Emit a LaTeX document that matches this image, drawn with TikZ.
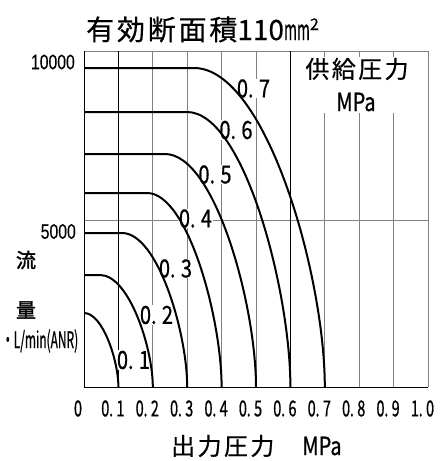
\documentclass[tikz,border=0pt]{standalone}
\usepackage{fontspec}
\usepackage{graphicx}
\newfontfamily\jp[FakeBold=0.5]{Noto Sans CJK JP}
\newfontfamily\jpls[LetterSpace=10,FakeBold=0.5]{Noto Sans CJK JP}
\newfontfamily\jpb[FakeBold=1.8]{Noto Sans CJK JP}
\newfontfamily\tickff[FakeStretch=0.66,FakeBold=0.6]{Noto Sans CJK JP}
\newfontfamily\clabff[FakeStretch=0.8,FakeBold=0.6]{Noto Sans CJK JP}
\newfontfamily\narrowff[FakeStretch=0.52,FakeBold=0.6]{Noto Sans CJK JP}
\newfontfamily\mpaff[FakeStretch=0.8,FakeBold=0.6]{Noto Sans CJK JP}
\newfontfamily\arialn[FakeStretch=0.75,FakeBold=0.3]{Liberation Sans}
\newlength\cellw
\setlength\cellw{8pt}
\newcommand\dg[1]{\makebox[\cellw][c]{#1}}
\newcommand\dt{\makebox[\cellw][l]{.}}
\newcommand\num[2]{\dg{#1}\dt\dg{#2}}
\newcommand\tickfont{\tickff\fontsize{22}{22}\selectfont\setlength\cellw{7.6pt}}
\newcommand\clabfont{\clabff\fontsize{25}{25}\selectfont\setlength\cellw{11pt}}
\begin{document}
\begin{tikzpicture}[x=1pt,y=-1pt,
  gridline/.style={draw=black!50, line width=0.8pt},
  frameline/.style={draw=black, line width=1pt},
  curve/.style={draw=black, line width=2pt},
  clabel/.style={fill=white, inner sep=0.6pt, font=\clabfont},
  ticklabel/.style={inner sep=0pt, font=\tickfont},
  plain/.style={inner sep=0pt}]
\path[use as bounding box] (0,0) rectangle (442,461);
% grid
\foreach \i in {2,3,4,5,7,8,9,10}
  \draw[gridline] ({84+34.4*\i},51) -- ({84+34.4*\i},387);
\draw[gridline] (84,51) -- (428,51);
\draw[gridline] (84,220) -- (428,220);
\draw[frameline] (84,51) -- (84,387) -- (428,387);
\draw[frameline] (118.4,51) -- (118.4,387);
\draw[frameline] (290.4,51) -- (290.4,387);
% supply pressure label box
\fill[white] (297,57) rectangle (421,113);
\node[plain, anchor=base] (sup1) at (357,78) {\jpls\fontsize{24}{24}\selectfont 供給圧力};
\node[plain, anchor=base] (sup2) at (356,111) {\mpaff\fontsize{25}{25}\selectfont MPa};
% curve labels
\node[clabel] (l7) at (253.5,88.5) {\num{0}{7}};
\node[clabel] (l6) at (236,130) {\num{0}{6}};
\node[clabel] (l5) at (215,174.5) {\num{0}{5}};
\node[clabel] (l4) at (195.5,218.5) {\num{0}{4}};
\node[clabel] (l3) at (175.5,268.5) {\num{0}{3}};
\node[clabel] (l2) at (156.5,315) {\num{0}{2}};
\node[clabel] (l1) at (133.5,360) {\num{0}{1}};
% curves
\draw[curve] (84,68) -- (194,68) .. controls (265.9,68) and (324.8,275.3) .. (324.8,387);
\draw[curve] (84,112) -- (187,112) .. controls (243.9,112) and (290.4,290.75) .. (290.4,387);
\draw[curve] (84,154) -- (165,154) .. controls (215.05,154) and (256,305.45) .. (256,387);
\draw[curve] (84,193) -- (147,193) .. controls (188,193) and (221.6,319.1) .. (221.6,387);
\draw[curve] (84,233) -- (122,233) .. controls (157.9,233) and (187.2,333.1) .. (187.2,387);
\draw[curve] (84,275) -- (100,275) .. controls (129,275) and (152.8,347.8) .. (152.8,387);
\draw[curve] (84,313) .. controls (102.9,313) and (118.4,361.1) .. (118.4,387);
% title
\node[plain, anchor=base west] (title) at (86,40) {\jpls\fontsize{28}{28}\selectfont 有効断面積\jp 110\scalebox{0.5}[1]{mm}\raisebox{10pt}{\fontsize{16}{16}\selectfont 2}};
% y axis
\node[plain, anchor=east] (y10k) at (75,62) {\arialn\fontsize{21}{21}\selectfont 10000};
\node[plain, anchor=east] (y5k) at (76,231.5) {\arialn\fontsize{21}{21}\selectfont 5000};
\node[plain] (ryu) at (26,260) {\jpb\fontsize{20}{20}\selectfont 流};
\node[plain] (ryo) at (26,310) {\jpb\fontsize{20}{20}\selectfont 量};
\node[plain] (unit) at (40,341) {\narrowff\fontsize{23}{23}\selectfont ・L/min(ANR)};
% x axis
\node[ticklabel] (t0) at (78,408.5) {\dg{0}};
\node[ticklabel] (t1) at (112.9,408.5) {\num{0}{1}};
\node[ticklabel] (t2) at (147.3,408.5) {\num{0}{2}};
\node[ticklabel] (t3) at (181.7,408.5) {\num{0}{3}};
\node[ticklabel] (t4) at (216.1,408.5) {\num{0}{4}};
\node[ticklabel] (t5) at (250.5,408.5) {\num{0}{5}};
\node[ticklabel] (t6) at (284.9,408.5) {\num{0}{6}};
\node[ticklabel] (t7) at (319.3,408.5) {\num{0}{7}};
\node[ticklabel] (t8) at (353.7,408.5) {\num{0}{8}};
\node[ticklabel] (t9) at (388.1,408.5) {\num{0}{9}};
\node[ticklabel] (t10) at (422.5,408.5) {\num{1}{0}};
\node[plain, anchor=base west] (xtitle) at (171,455) {\jpls\fontsize{24}{24}\selectfont 出力圧力\hspace{28pt}\mpaff\fontsize{25}{25}\selectfont MPa};
\end{tikzpicture}
\end{document}
